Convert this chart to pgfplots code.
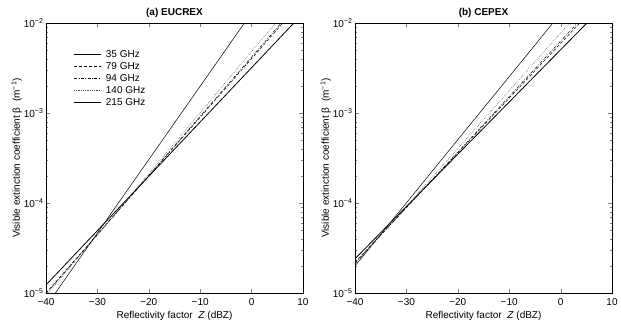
\documentclass[border=0pt]{standalone}
\usepackage{fontspec}
\setmainfont{Liberation Sans}
\usepackage{pgfplots}
\pgfplotsset{compat=1.18}
\tikzset{
  sA/.style={black, line width=0.8pt},
  sB/.style={black, line width=0.5pt, dash pattern=on 3pt off 2pt},
  sC/.style={black, line width=0.5pt, dash pattern=on 3pt off 1.5pt on 0.8pt off 1.5pt},
  sD/.style={black!70, line width=0.5pt, dash pattern=on 0.6pt off 1.2pt},
  sE/.style={black, line width=0.5pt},
}
\pgfplotsset{
  every axis/.append style={
    scale only axis,
    width=257pt, height=270pt,
    xmin=-40, xmax=10, ymin=1e-5, ymax=1e-2,
    xtick={-40,-30,-20,-10,0,10},
    xticklabels={−40,−30,−20,−10,0,10},
    ytick={1e-5,1e-4,1e-3,1e-2},
    yticklabels={10\textsuperscript{−5},10\textsuperscript{−4},10\textsuperscript{−3},10\textsuperscript{−2}},
    tick align=inside,
    major tick length=4pt,
    minor tick length=2pt,
    axis line style={line width=0.8pt},
    tick label style={font=\fontsize{10}{12}\selectfont},
    xticklabel style={yshift=-2pt},
    yticklabel style={xshift=1pt},
    label style={font=\fontsize{10}{12}\selectfont},
    title style={font=\fontsize{10}{12}\selectfont\bfseries, yshift=-4pt},
    xlabel={Reflectivity factor \ \textit{Z} (dBZ)},
    ylabel={Visible extinction coefficient β \ (m\textsuperscript{−1})},
    xlabel style={yshift=1.5pt},
    ylabel style={yshift=-5pt},
  },
}
\begin{document}
\fontsize{10}{12}\selectfont
\begin{tikzpicture}
\path[use as bounding box] (-46pt,-32pt) rectangle (575pt,293pt);
\begin{semilogyaxis}[anchor=south west, at={(0pt,0pt)}, title={(a) EUCREX},
  legend style={draw=none, fill=none, at={(0.095,0.915)}, anchor=north west,
    font=\fontsize{10}{12}\selectfont, row sep=-0.5pt,
    nodes={inner xsep=4.5pt}},
  legend cell align=left,
  legend image code/.code={\draw[#1] (0pt,0pt) -- (27pt,0pt);}]
\addplot[sA] coordinates {(-40,1.23e-5) (10,1.28e-2)};
\addlegendentry{35 GHz}
\addplot[sB] coordinates {(-40,1.0e-5) (10,1.8e-2)};
\addlegendentry{79 GHz}
\addplot[sC] coordinates {(-40,0.98e-5) (10,1.9e-2)};
\addlegendentry{94 GHz}
\addplot[sD] coordinates {(-40,0.93e-5) (10,2.3e-2)};
\addlegendentry{140 GHz}
\addplot[sE] coordinates {(-40,0.71e-5) (10,8.5e-2)};
\addlegendentry{215 GHz}
\end{semilogyaxis}
\begin{semilogyaxis}[anchor=south west, at={(309pt,0pt)}, title={(b) CEPEX}]
\addplot[sA] coordinates {(-40,2.40e-5) (10,1.92e-2)};
\addplot[sB] coordinates {(-40,2.2e-5) (10,2.4e-2)};
\addplot[sC] coordinates {(-40,2.15e-5) (10,2.6e-2)};
\addplot[sD] coordinates {(-40,2.1e-5) (10,3.4e-2)};
\addplot[sE] coordinates {(-40,2.0e-5) (10,6.4e-2)};
\end{semilogyaxis}
\end{tikzpicture}
\end{document}
